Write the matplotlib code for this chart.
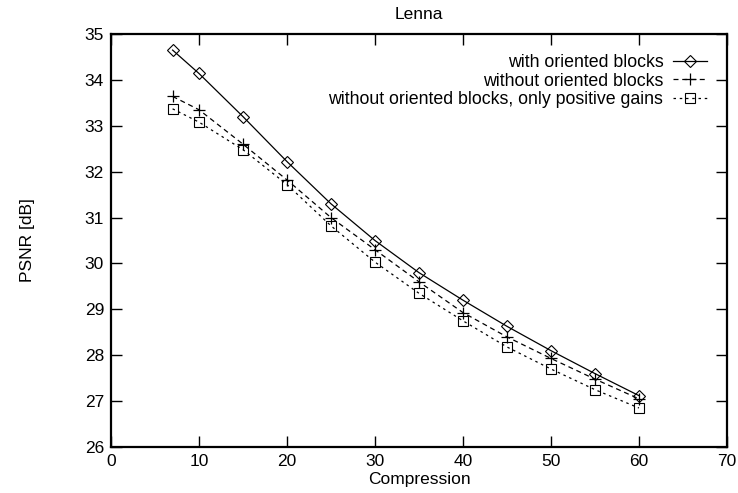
import matplotlib
matplotlib.use('Agg')
import matplotlib.pyplot as plt

plt.rcParams['font.family'] = ['Liberation Sans', 'DejaVu Sans']

# compression ratios
compression = [7, 10, 15, 20, 25, 30, 35, 40, 45, 50, 55, 60]
# PSNR values [dB]
with_oriented = [34.65, 34.14, 33.2, 32.22, 31.3, 30.5, 29.8, 29.2, 28.63, 28.1, 27.6, 27.12]
without_oriented = [33.64, 33.35, 32.6, 31.82, 31.0, 30.3, 29.6, 28.93, 28.4, 27.93, 27.48, 27.05]
only_positive = [33.37, 33.08, 32.48, 31.72, 30.82, 30.03, 29.35, 28.75, 28.18, 27.7, 27.25, 26.85]

labels = ['with oriented blocks',
          'without oriented blocks',
          'without oriented blocks, only positive gains']

fs = 12.5

fig = plt.figure(figsize=(7.38, 4.93), dpi=100)
ax = fig.add_axes([0.1504, 0.0933, 0.8346, 0.8377])

ax.plot(compression, with_oriented, color='black', lw=0.9, ls='-',
        marker='D', ms=6.5, mfc='none', mew=0.8, label=labels[0])
ax.plot(compression, without_oriented, color='black', lw=0.9, ls=(0, (4, 3)),
        marker='+', ms=8, mew=0.9, label=labels[1])
ax.plot(compression, only_positive, color='black', lw=0.9, ls=(0, (2, 3)),
        marker='s', ms=7.5, mfc='none', mew=0.8, label=labels[2])

ax.set_xlim(0, 70)
ax.set_ylim(26, 35)
ax.set_xticks(range(0, 71, 10))
ax.set_yticks(range(26, 36))
ax.tick_params(direction='in', length=8, width=1, labelsize=fs,
               top=True, right=True, pad=5)
for s in ax.spines.values():
    s.set_linewidth(1.6)

ax.set_title('Lenna', fontsize=fs, pad=11)
ax.set_xlabel('Compression', fontsize=fs, labelpad=2)
ax.set_ylabel('PSNR [dB]', fontsize=fs, labelpad=36)

ax.legend(loc='upper right', frameon=False, markerfirst=False, fontsize=12.8,
          handlelength=1.9, handletextpad=0.55, labelspacing=0.08,
          borderpad=0, borderaxespad=0, bbox_to_anchor=(0.9675, 0.951))

fig.savefig('out.png', dpi=100)
